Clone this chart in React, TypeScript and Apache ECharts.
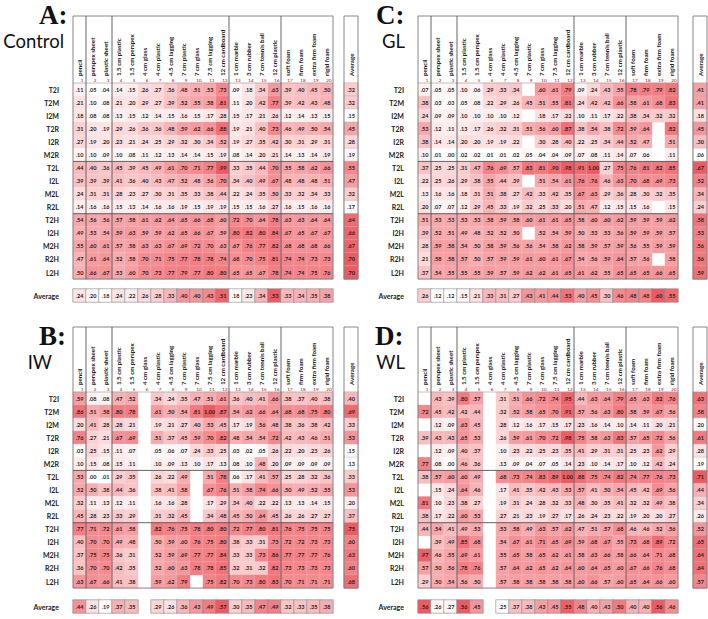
import React, { useEffect, useRef } from "react";
import * as echarts from "echarts";

const columns = ["pencil", "perspex sheet", "plastic sheet", "1.5 cm plastic", "1.5 cm perspex", "4 cm glass", "4 cm plastic", "4.5 cm lagging", "7 cm plastic", "7 cm glass", "7.5 cm lagging", "12 cm cardboard", "1 cm marble", "3 cm rubber", "7 cm tennis ball", "12 cm plastic", "soft foam", "firm foam", "extra firm foam", "rigid foam"];
const columnNumbers = columns.map((_c, i) => String(i + 1));
const rows = ["T2I", "T2M", "I2M", "T2R", "I2R", "M2R", "T2L", "I2L", "M2L", "R2L", "T2H", "I2H", "M2H", "R2H", "L2H"];
const averageLabel = "Average";
const columnGroupBreaks = [1, 3, 12, 16];
const rowGroupBreaks = [6, 10];
const _ = null;

const controlValues = [
  [.11, .05, .04, .14, .15, .26, .27, .36, .48, .51, .53, .73, .09, .18, .34, .63, .39, .40, .45, .50],
  [.21, .10, .08, .21, .20, .29, .27, .39, .52, .55, .58, .81, .11, .20, .42, .77, .39, .42, .43, .48],
  [.18, .08, .08, .13, .15, .12, .14, .15, .16, .15, .17, .28, .15, .17, .21, .26, .12, .14, .13, .15],
  [.31, .20, .19, .29, .26, .36, .36, .48, .59, .62, .66, .88, .19, .21, .40, .73, .46, .49, .50, .54],
  [.27, .19, .20, .23, .21, .24, .25, .29, .32, .30, .34, .52, .19, .27, .35, .42, .30, .31, .29, .31],
  [.10, .10, .09, .10, .08, .11, .12, .13, .14, .14, .15, .19, .08, .14, .20, .21, .14, .13, .14, .19],
  [.44, .40, .36, .45, .39, .45, .49, .61, .70, .71, .77, .99, .33, .35, .44, .70, .55, .58, .62, .66],
  [.39, .39, .39, .41, .36, .40, .43, .47, .52, .48, .56, .70, .34, .40, .49, .67, .48, .48, .48, .51],
  [.24, .31, .31, .28, .23, .27, .30, .31, .35, .33, .38, .44, .22, .24, .35, .50, .33, .32, .34, .33],
  [.14, .16, .16, .15, .13, .14, .16, .16, .19, .15, .19, .19, .15, .15, .16, .27, .16, .15, .16, .16],
  [.54, .56, .56, .57, .58, .61, .62, .64, .65, .66, .68, .60, .72, .70, .64, .78, .63, .63, .64, .64],
  [.49, .53, .54, .59, .63, .59, .59, .62, .65, .66, .67, .59, .80, .82, .80, .84, .67, .65, .67, .67],
  [.55, .60, .61, .57, .58, .63, .63, .67, .69, .72, .70, .63, .67, .76, .77, .82, .68, .68, .68, .66],
  [.47, .61, .64, .52, .58, .70, .71, .75, .77, .78, .78, .74, .68, .70, .75, .81, .74, .74, .73, .73],
  [.50, .66, .67, .53, .60, .70, .73, .77, .79, .77, .80, .80, .65, .65, .67, .78, .74, .74, .75, .76],
];
const controlRowAverages = [.32, .32, .15, .45, .28, .19, .55, .47, .32, .17, .64, .66, .67, .70, .70];
const controlColumnAverages = [.24, .20, .18, .24, .22, .26, .28, .33, .40, .40, .43, .51, .18, .23, .34, .53, .33, .34, .35, .38];

const glValues = [
  [.07, .05, .05, .10, .06, .29, .33, .34, _, .60, .61, .79, .09, .24, .43, .55, .78, .79, .79, .82],
  [.38, .03, .03, .05, .08, .22, .29, .26, .45, .51, .55, .81, .24, .42, .42, .66, .58, .61, .68, .83],
  [.24, .09, .09, .10, .10, .10, .10, .12, _, .18, .17, .22, .10, .11, .17, .22, .38, .34, .32, .32],
  [.53, .12, .11, .13, .17, .26, .32, .31, .51, .56, .60, .87, .38, .54, .38, .72, .59, .64, _, .82],
  [.38, .14, .14, .20, .20, .19, .19, .22, _, .30, .28, .40, .22, .25, .34, .44, .52, .47, _, .51],
  [.10, .01, .00, .02, .02, .01, .01, .02, .05, .04, .04, .09, .07, .08, .11, .14, .07, .06, _, .11],
  [.37, .25, .25, .31, .47, .76, .69, .57, .83, .81, .90, .98, .91, 1.00, .27, .75, .76, .81, .82, .85],
  [.22, .25, .26, .29, .38, .55, .44, .39, _, .51, .54, .61, .76, .76, .46, .63, .70, .68, .69, .73],
  [.13, .16, .16, .18, .31, .51, .38, .27, .42, .33, .42, .35, .67, .63, .29, .36, .28, .30, .32, .35],
  [.20, .07, .07, .12, .29, .45, .33, .19, .32, .25, .33, .20, .51, .47, .12, .15, .15, .16, _, .15],
  [.51, .53, .53, .53, .53, .58, .59, .58, .60, .61, .61, .65, .58, .60, .60, .62, .59, .59, .59, .62],
  [.39, .52, .51, .49, .48, .52, .52, .50, _, .52, .54, .59, .50, .53, .53, .56, .59, .59, .59, .57],
  [.28, .59, .58, .54, .50, .58, .59, .56, .56, .54, .58, .62, .58, .59, .57, .59, .56, .55, .59, .59],
  [.21, .58, .58, .57, .50, .57, .59, .59, .61, .60, .61, .67, .54, .56, .59, .64, .57, .56, _, .58],
  [.37, .54, .55, .55, .55, .59, .57, .59, .62, .62, .61, .65, .61, .62, .55, .65, .65, .65, .66, .65],
];
const glRowAverages = [.41, .41, .18, .45, .30, .06, .67, .52, .34, .24, .58, .53, .56, .56, .59];
const glColumnAverages = [.26, .12, .12, .15, .21, .33, .31, .27, .43, .41, .44, .53, .40, .45, .30, .46, .48, .48, .60, .55];

const iwValues = [
  [.59, .08, .08, .47, .52, _, .34, .24, .35, .47, .51, .61, .36, .40, .41, .66, .38, .37, .40, .38],
  [.86, .51, .58, .80, .78, _, .61, .50, .54, .81, 1.00, .87, .54, .62, .66, .64, .68, .68, .75, .80],
  [.20, .41, .28, .28, .21, _, .19, .21, .27, .40, .53, .45, .17, .19, .56, .48, .38, .36, .38, .42],
  [.76, .27, .21, .67, .69, _, .51, .37, .45, .59, .70, .82, .48, .54, .54, .72, .42, .43, .46, .51],
  [.03, .25, .15, .11, .07, _, .05, .06, .07, .24, .33, .25, .03, .02, .05, .26, .22, .20, .23, .26],
  [.10, .15, .08, .15, .11, _, .10, .09, .13, .10, .17, .13, .08, .10, .48, .20, .09, .09, .09, .09],
  [.53, .00, .01, .29, .35, _, .26, .22, .49, _, .51, .78, .06, .17, .41, .57, .25, .28, .32, .36],
  [.52, .50, .38, .44, .36, _, .38, .41, .58, _, .67, .76, .51, .58, .74, .66, .50, .49, .52, .55],
  [.32, .11, .13, .12, .11, _, .16, .16, .28, _, .17, .29, .34, .40, .22, .22, .13, .13, .14, .15],
  [.45, .28, .23, .33, .29, _, .31, .32, .45, _, .34, .48, .45, .50, .64, .45, .26, .26, .27, .27],
  [.77, .71, .72, .61, .58, _, .82, .76, .75, .78, .80, .80, .72, .77, .80, .81, .76, .75, .75, .75],
  [.40, .70, .70, .49, .48, _, .50, .59, .60, .76, .75, .80, .38, .33, .31, .73, .72, .72, .73, .73],
  [.37, .75, .75, .36, .31, _, .52, .59, .69, .77, .77, .84, .33, .33, .73, .86, .77, .77, .77, .76],
  [.36, .70, .70, .42, .35, _, .52, .60, .63, .78, .78, .85, .32, .31, .32, .82, .73, .73, .73, .73],
  [.63, .67, .66, .41, .38, _, .59, .62, .79, _, .75, .82, .70, .73, .80, .83, .70, .71, .71, .71],
];
const iwRowAverages = [.40, .69, .33, .53, .15, .13, .33, .53, .20, .37, .75, .60, .63, .60, .68];
const iwColumnAverages = [.44, .26, .19, .37, .35, _, .29, .26, .36, .43, .49, .57, .30, .35, .47, .49, .32, .33, .35, .38];

const wlValues = [
  [_, .43, .39, .80, .57, _, .31, .51, .66, .72, .74, .95, .44, .63, .64, .79, .65, .63, .82, .76],
  [.72, .45, .42, .42, .44, _, .32, .52, .58, .65, .70, .91, .57, .56, .63, .80, .58, .59, .67, .56],
  [_, .12, .09, .63, .45, _, .28, .12, .16, .17, .15, .17, .23, .16, .14, .10, .14, .11, .20, .21],
  [.39, .43, .43, .65, .53, _, .26, .59, .61, .70, .72, .98, .75, .58, .63, .83, .57, .65, .72, .56],
  [_, .12, .09, .40, .37, _, .10, .23, .22, .25, .23, .35, .41, .29, .31, .31, .25, .23, .62, .29],
  [.77, .08, .00, .46, .36, _, .13, .09, .04, .07, .05, .14, .23, .10, .14, .17, .10, .12, .42, .24],
  [.38, .57, .60, .60, .49, _, .68, .73, .74, .83, .89, 1.00, .88, .75, .74, .82, .74, .77, .76, .73],
  [_, .15, .24, .64, .46, _, .17, .41, .35, .42, .43, .53, .57, .41, .50, .54, .45, .42, .69, .56],
  [.81, .10, .23, .38, .27, _, .19, .31, .24, .28, .32, .33, .48, .30, .35, .41, .32, .32, .49, .38],
  [.38, .17, .22, .60, .53, _, .27, .21, .23, .19, .27, .17, .26, .24, .23, .22, .19, .20, .20, .27],
  [.44, .54, .41, .49, .53, _, .53, .58, .49, .63, .57, .62, .47, .51, .57, .68, .46, .46, .52, .56],
  [_, .39, .49, .85, .68, _, .54, .67, .61, .71, .65, .69, .59, .68, .67, .55, .73, .68, .89, .72],
  [.97, .46, .55, .69, .61, _, .55, .65, .58, .65, .62, .61, .58, .63, .66, .58, .66, .64, .71, .68],
  [.57, .50, .56, .78, .76, _, .57, .64, .62, .65, .62, .64, .60, .64, .65, .60, .67, .66, .76, .68],
  [.29, .50, .54, .56, .50, _, .57, .58, .58, .58, .58, .58, .60, .66, .57, .60, .65, .64, .66, .60],
];
const wlRowAverages = [.63, .58, .20, .61, .28, .19, .71, .44, .34, .26, .52, .65, .64, .64, .57];
const wlColumnAverages = [.56, .26, .27, .56, .45, _, .25, .37, .38, .43, .45, .55, .48, .40, .43, .50, .40, .40, .56, .46];

const panels = [
  { key: "A", letter: "A:", name: "Control", values: controlValues, rowAvg: controlRowAverages, colAvg: controlColumnAverages },
  { key: "C", letter: "C:", name: "GL", values: glValues, rowAvg: glRowAverages, colAvg: glColumnAverages },
  { key: "B", letter: "B:", name: "IW", values: iwValues, rowAvg: iwRowAverages, colAvg: iwColumnAverages },
  { key: "D", letter: "D:", name: "WL", values: wlValues, rowAvg: wlRowAverages, colAvg: wlColumnAverages },
];

// layout (pixels)
const CELL_W = 13;
const ROW_H = 13.07;
const AVG_COL_W = 14;
const AVG_ROW_H = 13;
const layout: Record<string, any> = {
  A: { left: 73, top: 83, headerH: 67, avgLeft: 344, avgRowTop: 289, letterX: 39, letterY: 1, nameRight: 64, nameY: 31 },
  C: { left: 418, top: 83, headerH: 67, avgLeft: 693, avgRowTop: 289, letterX: 376, letterY: 1, nameRight: 405, nameY: 31 },
  B: { left: 73, top: 392, headerH: 65, avgLeft: 344, avgRowTop: 600, letterX: 39, letterY: 322, nameRight: 52, nameY: 352 },
  D: { left: 418, top: 392, headerH: 65, avgLeft: 693, avgRowTop: 600, letterX: 375, letterY: 322, nameRight: 405, nameY: 352 },
};

const FONT = "Lato, 'Open Sans', sans-serif";
const HEADER_FONT = "bold 6.2px Lato, sans-serif";
const NUMBER_FONT = "4.6px Lato, sans-serif";
const RED = ["#ffffff", "#ee5a61"];

const fmt = (v: number) => (v >= 1 ? v.toFixed(2) : v.toFixed(2).replace(/^0/, ""));

function range(vals: (number | null)[]) {
  const nums = vals.filter((v) => v !== null) as number[];
  return [Math.min(...nums), Math.max(...nums)];
}

function rotatedText(text: string, x: number, y: number) {
  return {
    type: "text", x, y, rotation: Math.PI / 2, silent: true,
    style: { text, font: HEADER_FONT, fill: "#222", align: "left", verticalAlign: "middle", textAlign: "left", textVerticalAlign: "middle" },
  };
}

function buildOption() {
  const grid: any[] = [];
  const xAxis: any[] = [];
  const yAxis: any[] = [];
  const series: any[] = [];
  const visualMap: any[] = [];
  const graphic: any[] = [];

  const hiddenAxis = { axisLine: { show: false }, axisTick: { show: false }, splitLine: { show: false } };

  panels.forEach((p) => {
    const L = layout[p.key];
    const headerH = L.headerH;

    const gMain = grid.length;
    grid.push({ left: L.left, top: L.top, width: CELL_W * 20, height: ROW_H * 15 });
    const gCol = grid.length;
    grid.push({ left: L.avgLeft, top: L.top, width: AVG_COL_W, height: ROW_H * 15 });
    const gRow = grid.length;
    grid.push({ left: L.left, top: L.avgRowTop, width: CELL_W * 20, height: AVG_ROW_H });

    const xMain = xAxis.length;
    xAxis.push({ gridIndex: gMain, type: "category", data: columns, position: "top", ...hiddenAxis, axisLabel: { show: false } });
    const xCol = xAxis.length;
    xAxis.push({ gridIndex: gCol, type: "category", data: [averageLabel], position: "top", ...hiddenAxis, axisLabel: { show: false } });
    const xRow = xAxis.length;
    xAxis.push({ gridIndex: gRow, type: "category", data: columns, ...hiddenAxis, axisLabel: { show: false } });

    const yMain = yAxis.length;
    yAxis.push({
      gridIndex: gMain, type: "category", data: rows, inverse: true, ...hiddenAxis,
      axisLabel: { interval: 0, fontSize: 7, fontWeight: "bold", fontFamily: FONT, color: "#222", margin: 14 },
    });
    const yCol = yAxis.length;
    yAxis.push({ gridIndex: gCol, type: "category", data: rows, inverse: true, ...hiddenAxis, axisLabel: { show: false } });
    const yRow = yAxis.length;
    yAxis.push({
      gridIndex: gRow, type: "category", data: [averageLabel], ...hiddenAxis,
      axisLabel: { fontSize: 7, fontWeight: "bold", fontFamily: FONT, color: "#222", margin: 14 },
    });

    const labelStyle = {
      show: true, fontSize: 5.5, fontWeight: "bold", fontFamily: FONT, color: "#222",
      formatter: (q: any) => fmt(q.value[2]),
    };

    // main heatmap
    const mainData: any[] = [];
    p.values.forEach((row, r) => row.forEach((v, c) => { if (v !== null) mainData.push([c, r, v]); }));
    const allMain = ([] as (number | null)[]).concat(...p.values);
    const [mn, mx] = range(allMain);
    visualMap.push({ type: "continuous", show: false, seriesIndex: series.length, dimension: 2, min: mn, max: mx, inRange: { color: RED } });
    series.push({
      type: "heatmap", xAxisIndex: xMain, yAxisIndex: yMain, data: mainData, label: labelStyle,
      itemStyle: { borderColor: "rgba(255,255,255,0.5)", borderWidth: 0.3 }, emphasis: { disabled: true }, silent: true,
    });

    // avg column heatmap
    const colData = p.rowAvg.map((v, r) => [0, r, v]);
    const [cmn, cmx] = range(p.rowAvg);
    visualMap.push({ type: "continuous", show: false, seriesIndex: series.length, dimension: 2, min: cmn, max: cmx, inRange: { color: RED } });
    series.push({
      type: "heatmap", xAxisIndex: xCol, yAxisIndex: yCol, data: colData, label: labelStyle,
      itemStyle: { borderColor: "#b8b8b8", borderWidth: 0.5 }, emphasis: { disabled: true }, silent: true,
    });

    // avg row heatmap
    const rowData: any[] = [];
    p.colAvg.forEach((v, c) => { if (v !== null) rowData.push([c, 0, v]); });
    const [rmn, rmx] = range(p.colAvg);
    visualMap.push({ type: "continuous", show: false, seriesIndex: series.length, dimension: 2, min: rmn, max: rmx, inRange: { color: RED } });
    series.push({
      type: "heatmap", xAxisIndex: xRow, yAxisIndex: yRow, data: rowData, label: labelStyle,
      itemStyle: { borderColor: "#8a8a8a", borderWidth: 0.6 }, emphasis: { disabled: true }, silent: true,
    });

    // column headers (names + red numbers), placed through the x scale
    series.push({
      type: "custom", xAxisIndex: xMain, yAxisIndex: yMain, clip: false, silent: true, z: 6,
      data: columns.map((_c, i) => [i, 0]),
      renderItem: (params: any, api: any) => {
        const cs = params.coordSys;
        const x = api.coord([api.value(0), 0])[0];
        const i = params.dataIndex;
        return {
          type: "group",
          children: [
            rotatedText(columns[i], x, cs.y - 7),
            {
              type: "text", x: x + 2.5, y: cs.y - 3, silent: true,
              style: { text: columnNumbers[i], font: NUMBER_FONT, fill: "#c00000", align: "center", verticalAlign: "middle", textAlign: "center", textVerticalAlign: "middle" },
            },
          ],
        };
      },
    });

    // separators & boxes for main table
    const sepData: number[][] = [[0, 0, 2], [0, 0, 3]];
    columnGroupBreaks.forEach((b) => sepData.push([b - 1, 0, 0]));
    rowGroupBreaks.forEach((r) => sepData.push([0, r - 1, 1]));
    series.push({
      type: "custom", xAxisIndex: xMain, yAxisIndex: yMain, clip: false, silent: true, z: 5,
      data: sepData,
      renderItem: (params: any, api: any) => {
        const cs = params.coordSys;
        const kind = api.value(2);
        const size = api.size([1, 1]);
        const pt = api.coord([api.value(0), api.value(1)]);
        const left = cs.x, top = cs.y, right = cs.x + cs.width, bottom = cs.y + cs.height;
        if (kind === 2) {
          return { type: "rect", shape: { x: left, y: top - headerH, width: cs.width, height: cs.height + headerH }, style: { fill: "none", stroke: "#7a7a7a", lineWidth: 0.9 } };
        }
        if (kind === 3) {
          return { type: "line", shape: { x1: left, y1: top, x2: right, y2: top }, style: { stroke: "#9a9a9a", lineWidth: 0.6 } };
        }
        if (kind === 0) {
          const x = pt[0] + size[0] / 2;
          return { type: "line", shape: { x1: x, y1: top - headerH, x2: x, y2: bottom }, style: { stroke: "#555", lineWidth: 0.9 } };
        }
        const y = pt[1] + size[1] / 2;
        return { type: "line", shape: { x1: left, y1: y, x2: right, y2: y }, style: { stroke: "#555", lineWidth: 0.9 } };
      },
    });

    // avg column box and header
    series.push({
      type: "custom", xAxisIndex: xCol, yAxisIndex: yCol, clip: false, silent: true, z: 5,
      data: [[0, 0]],
      renderItem: (params: any, api: any) => {
        const cs = params.coordSys;
        const x = api.coord([0, 0])[0];
        return {
          type: "group",
          children: [
            { type: "rect", shape: { x: cs.x, y: cs.y - headerH, width: cs.width, height: cs.height + headerH }, style: { fill: "none", stroke: "#7a7a7a", lineWidth: 0.9 } },
            rotatedText(averageLabel, x, cs.y - 7),
          ],
        };
      },
    });

    graphic.push({
      type: "text", left: L.letterX, top: L.letterY, silent: true,
      style: { text: p.letter, font: "bold 27px 'Liberation Serif', serif", fill: "#111", lineHeight: 28 },
    });
    graphic.push({
      type: "text", right: 708 - L.nameRight, top: L.nameY, silent: true,
      style: { text: p.name, font: "18.5px Lato, sans-serif", fill: "#111" },
    });
  });

  return { animation: false, backgroundColor: "#ffffff", grid, xAxis, yAxis, series, visualMap, graphic };
}

export default function App() {
  const ref = useRef<HTMLDivElement>(null);
  useEffect(() => {
    const chart = echarts.init(ref.current!, null, { renderer: "svg" });
    chart.setOption(buildOption());
    return () => chart.dispose();
  }, []);
  return <div ref={ref} style={{ position: "fixed", left: 0, top: 0, width: 708, height: 619, background: "#fff" }} />;
}
